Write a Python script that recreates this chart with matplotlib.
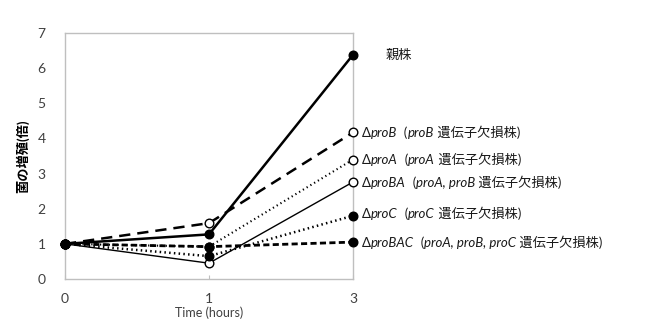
import matplotlib
matplotlib.use("Agg")
import matplotlib.pyplot as plt
from matplotlib.offsetbox import TextArea, HPacker, AnnotationBbox

plt.rcParams['font.family'] = ['Lato', 'Noto Sans CJK JP', 'DejaVu Sans']

# Sampling times (hours), shown as evenly spaced categories
times = ["0", "1", "3"]

# Growth (fold) of each strain
parent = [1.0, 1.27, 6.38]
proB = [1.0, 1.59, 4.17]
proA = [1.0, 0.92, 3.40]
proBA = [1.0, 0.45, 2.76]
proC = [1.0, 0.65, 1.80]
proBAC = [1.0, 0.92, 1.05]

# Label pieces: (text, italic?)
labels = {
    "parent": [("親株", False)],
    "proB": [("Δ", False), ("proB", True), ("  (", False), ("proB", True),
             (" 遺伝子欠損株)", False)],
    "proA": [("Δ", False), ("proA", True), ("  (", False), ("proA", True),
             (" 遺伝子欠損株)", False)],
    "proBA": [("Δ", False), ("proBA", True), ("  (", False), ("proA, proB", True),
              (" 遺伝子欠損株)", False)],
    "proC": [("Δ", False), ("proC", True), ("  (", False), ("proC", True),
             (" 遺伝子欠損株)", False)],
    "proBAC": [("Δ", False), ("proBAC", True), ("  (", False),
               ("proA, proB, proC", True), (" 遺伝子欠損株)", False)],
}

fig = plt.figure(figsize=(6.5, 3.3), dpi=100)
ax = fig.add_axes([65 / 650, 51 / 330, 288 / 650, 246 / 330])
x = list(range(len(times)))

styles = [
    ("proA", proA, dict(color="black", lw=1.5, ls=(0, (0.6, 1.5)), mfc="white")),
    ("proBA", proBA, dict(color="black", lw=1.0, ls="-", mfc="white")),
    ("proC", proC, dict(color="black", lw=1.8, ls=(0, (0.6, 1.3)), mfc="black")),
    ("proBAC", proBAC, dict(color="black", lw=2.0, ls=(0, (2.2, 1.2)), mfc="black")),
    ("proB", proB, dict(color="black", lw=1.8, ls=(0, (4.5, 2.8)), mfc="white")),
    ("parent", parent, dict(color="black", lw=1.8, ls="-", mfc="black")),
]


def label_box(pieces, size):
    areas = []
    for txt, italic in pieces:
        props = dict(fontsize=size, color="#1a1a1a",
                     fontstyle="italic" if italic else "normal")
        areas.append(TextArea(txt, textprops=props))
    return HPacker(children=areas, align="baseline", pad=0, sep=0)


for key, vals, st in styles:
    ax.plot(x, vals, marker="o", markersize=6.2, markeredgecolor="black",
            markeredgewidth=1.0, clip_on=False, zorder=3, **st)
    dx = 33 if key == "parent" else 9
    dy = 2 if key == "proC" else 0
    ab = AnnotationBbox(label_box(labels[key], 9.5), (x[-1], vals[-1]),
                        xybox=(dx * 0.72, dy * 0.72), boxcoords="offset points",
                        box_alignment=(0, 0.5), frameon=False,
                        annotation_clip=False, pad=0)
    ax.add_artist(ab)

ax.set_xlim(0, len(times) - 1)
ax.set_ylim(0, 7)
ax.set_xticks(x)
ax.set_xticklabels(times)
ax.set_yticks(range(0, 8))

for s in ax.spines.values():
    s.set_color("#bfbfbf")
    s.set_linewidth(1.0)

ax.tick_params(axis="y", length=0, pad=14, labelsize=10, colors="#404040")
ax.tick_params(axis="x", direction="in", length=3, width=0.8, color="#bfbfbf",
               pad=10, labelsize=10, labelcolor="#404040")

ax.set_xlabel("Time (hours)", fontsize=9, color="#404040", labelpad=1)
ax.set_ylabel("菌の増殖(倍)", fontsize=9.5, fontweight="bold", labelpad=6)

fig.savefig("out.png", dpi=100)
